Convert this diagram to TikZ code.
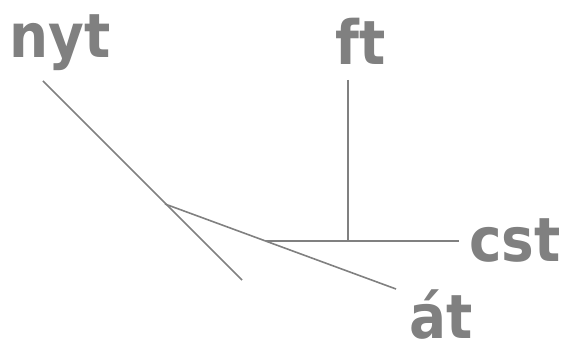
\documentclass[tikz,border=0pt]{standalone}
\usepackage{fontspec}
\setmainfont{DejaVu Sans}[BoldFeatures={FakeStretch=0.9}]
\usepackage{tikz}
\definecolor{treegray}{HTML}{808080}
\tikzset{
  leaf/.style={anchor=base west,inner sep=0pt,text=treegray,font=\fontsize{61}{63}\selectfont\bfseries},
  branch/.style={draw=treegray,line width=1.6pt}
}

\begin{document}
\begin{tikzpicture}[x=1pt,y=-1pt]
        \useasboundingbox (0,0) rectangle (568,342);
        \node[leaf] (nyt) at (9,58) {nyt};
        \node[leaf] (ft) at (335,65) {ft};
        \node[leaf] (cst) at (469,261) {cst};
        \node[leaf] (at) at (409,338) {át};
        \coordinate (nytTop) at (43,81);
        \coordinate (nytEnd) at (242,280);
        \coordinate (fork) at (165,204);
        \coordinate (join) at (266,241);
        \coordinate (atEnd) at (396,289);
        \coordinate (ftTop) at (348,80);
        \coordinate (ftFoot) at (348,241);
        \coordinate (cstEnd) at (459,241);
        \draw[branch] (nytTop) -- (nytEnd);
        \draw[branch] (fork) -- (atEnd);
        \draw[branch] (join) -- (cstEnd);
        \draw[branch] (ftTop) -- (ftFoot);
\end{tikzpicture}
\end{document}
